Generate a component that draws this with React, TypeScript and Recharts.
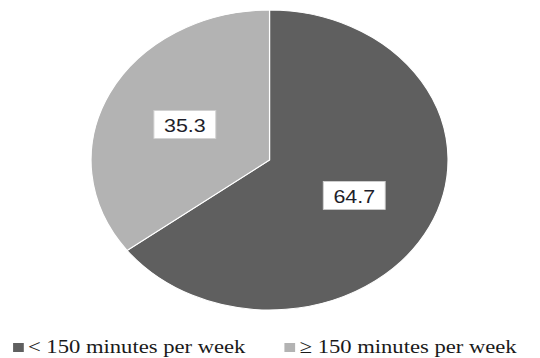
import React from "react";
import { PieChart, Pie, Cell, Legend } from "recharts";

const categories = ["< 150 minutes per week", "\u2265 150 minutes per week"];
const values = [64.7, 35.3];
const colors = ["#5f5f5f", "#b3b3b3"];

const data = categories.map((name, i) => ({ name, value: values[i] }));

const RAD = Math.PI / 180;

const renderLabel = (props: any) => {
  const { cx, cy, midAngle, outerRadius, value } = props;
  const r = outerRadius * 0.53;
  const x = cx + r * Math.cos(-midAngle * RAD);
  const y = cy + r * Math.sin(-midAngle * RAD);
  const w = 52;
  const h = 28;
  return (
    <g>
      <rect x={x - w / 2} y={y - h / 2} width={w} height={h} fill="#ffffff" stroke="#d0d0d0" strokeWidth={0.8} />
      <text
        x={x}
        y={y + 1}
        textAnchor="middle"
        dominantBaseline="central"
        fontFamily="'Liberation Sans', Arial, sans-serif"
        fontSize={18}
        fill="#1e1e2a"
      >
        {value.toFixed(1)}
      </text>
    </g>
  );
};

const renderLegend = (props: any) => {
  const { payload } = props;
  return (
    <div style={{ display: "flex", alignItems: "center", paddingLeft: 11 }}>
      {payload.map((entry: any, i: number) => (
        <div key={i} style={{ display: "flex", alignItems: "center", marginRight: 33 }}>
          <div style={{ width: 9, height: 9, background: entry.color, marginRight: 3.5, marginTop: 1 }} />
          <span
            style={{
              fontFamily: "'Liberation Serif', 'Times New Roman', serif",
              fontSize: 19,
              color: "#1a1a1a",
              whiteSpace: "nowrap",
              lineHeight: "22px",
            }}
          >
            {entry.value}
          </span>
        </div>
      ))}
    </div>
  );
};

export default function App() {
  return (
    <div style={{ position: "absolute", left: 0, top: 0, width: 540, height: 358, overflow: "hidden", background: "#fff" }}>
      <div style={{ width: 454, height: 358, transform: "scaleX(1.19)", transformOrigin: "0 0" }}>
        <PieChart width={454} height={358} margin={{ top: 0, right: 0, bottom: 0, left: 0 }}>
          <Pie
            data={data}
            dataKey="value"
            nameKey="name"
            cx={226.5}
            cy={160}
            outerRadius={150}
            startAngle={90}
            endAngle={-270}
            stroke="#ffffff"
            strokeWidth={1}
            label={renderLabel}
            labelLine={false}
            isAnimationActive={false}
          >
            {data.map((d, i) => (
              <Cell key={d.name} fill={colors[i]} />
            ))}
          </Pie>
          <Legend
            content={renderLegend}
            wrapperStyle={{ position: "absolute", left: 0, top: 336, width: 454 }}
          />
        </PieChart>
      </div>
    </div>
  );
}
